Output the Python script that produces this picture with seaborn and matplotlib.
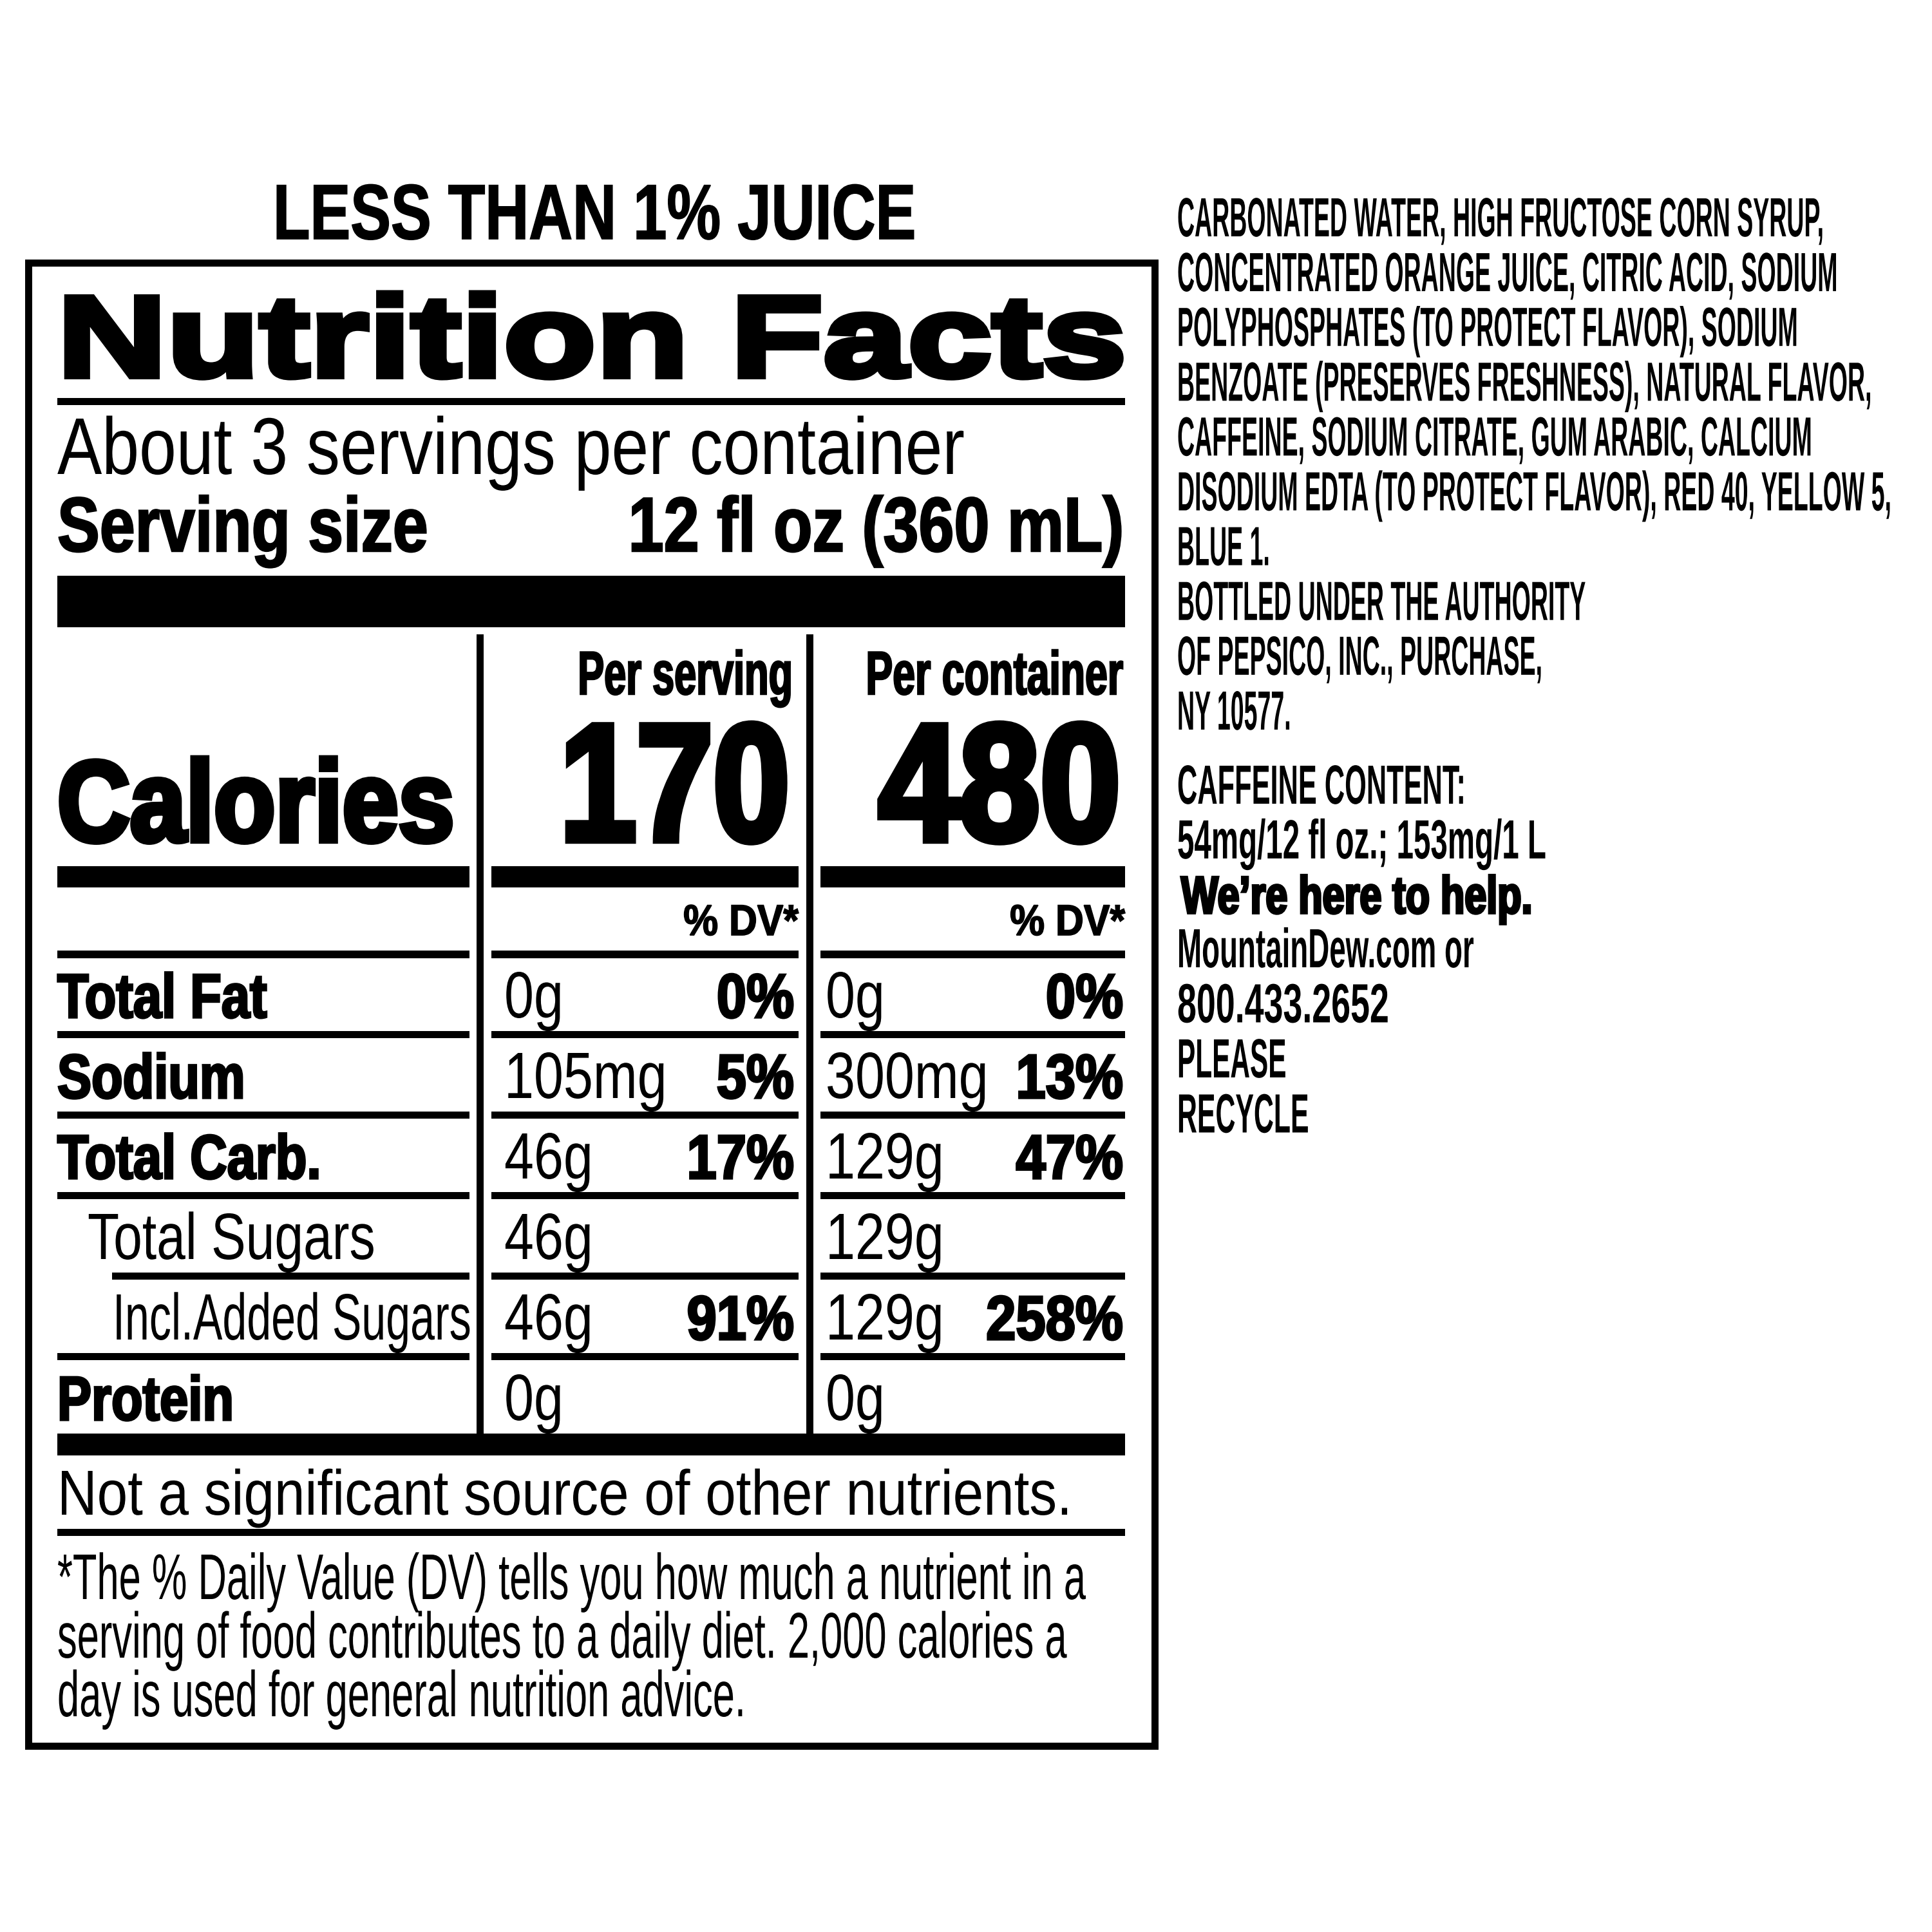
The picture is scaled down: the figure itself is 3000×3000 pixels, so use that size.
import matplotlib
matplotlib.use("Agg")
import matplotlib.pyplot as plt
import seaborn as sns
from matplotlib.patches import Rectangle
from matplotlib.patheffects import AbstractPathEffect
from matplotlib.transforms import Affine2D
from matplotlib.textpath import TextPath
from matplotlib.font_manager import FontProperties

# label content
juice_note = "LESS THAN 1% JUICE"
title = "Nutrition Facts"
servings_text = "About 3 servings per container"
serving_size_label = "Serving size"
serving_size_value = "12 fl oz (360 mL)"
column_heads = ["Per serving", "Per container"]
calories = [170, 480]
dv_head = "% DV*"

nutrients = ["Total Fat", "Sodium", "Total Carb.", "Total Sugars",
             "Incl.Added Sugars", "Protein"]
nutrient_level = [0, 0, 0, 1, 2, 0]
serving_amount = ["0g", "105mg", "46g", "46g", "46g", "0g"]
serving_dv = ["0%", "5%", "17%", "", "91%", ""]
container_amount = ["0g", "300mg", "129g", "129g", "129g", "0g"]
container_dv = ["0%", "13%", "47%", "", "258%", ""]

other_note = "Not a significant source of other nutrients."
footnote_lines = [
    "*The % Daily Value (DV) tells you how much a nutrient in a",
    "serving of food contributes to a daily diet. 2,000 calories a",
    "day is used for general nutrition advice.",
]

ingredient_lines = [
    "CARBONATED WATER, HIGH FRUCTOSE CORN SYRUP,",
    "CONCENTRATED ORANGE JUICE, CITRIC ACID, SODIUM",
    "POLYPHOSPHATES (TO PROTECT FLAVOR), SODIUM",
    "BENZOATE (PRESERVES FRESHNESS), NATURAL FLAVOR,",
    "CAFFEINE, SODIUM CITRATE, GUM ARABIC, CALCIUM",
    "DISODIUM EDTA (TO PROTECT FLAVOR), RED 40, YELLOW 5,",
    "BLUE 1.",
    "BOTTLED UNDER THE AUTHORITY",
    "OF PEPSICO, INC., PURCHASE,",
    "NY 10577.",
]
caffeine_lines = ["CAFFEINE CONTENT:", "54mg/12 fl oz.; 153mg/1 L"]
help_line = "We\u2019re here to help."
contact_lines = ["MountainDew.com or", "800.433.2652", "PLEASE", "RECYCLE"]


sns.set_theme(style="white")
plt.rcParams["font.family"] = ["Liberation Sans", "DejaVu Sans"]

DPI = 300
PX = DPI / 72.0
FAMILY = "Liberation Sans"


class Tall(AbstractPathEffect):
    """Stretch glyphs vertically about the baseline (gives condensed look), optional emboldening."""

    def __init__(self, sy, stroke=0.0):
        super().__init__()
        self.sy = sy
        self.stroke = stroke

    def draw_path(self, renderer, gc, tpath, affine, rgbFace=None):
        gc0 = renderer.new_gc()
        gc0.copy_properties(gc)
        if self.stroke:
            gc0.set_linewidth(self.stroke)
            gc0.set_foreground(rgbFace)
            gc0.set_joinstyle("miter")
        renderer.draw_path(gc0, tpath, Affine2D().scale(1, self.sy) + affine, rgbFace)
        gc0.restore()


def _ext(s, size, weight):
    fp = FontProperties(family=FAMILY, weight=weight)
    return TextPath((0, 0), s, size=size * PX, prop=fp).get_extents()


def fit(s, cap, width, weight="normal", stroke=0.0):
    """font size giving the wanted ink width, and the vertical factor for the cap height"""
    grow = stroke * PX
    size = 10 * (width - grow) / _ext(s, 10, weight).width
    sy = (cap - grow) / _ext("H", size, weight).height
    return size, sy, weight, stroke


def label(x, y, s, style, ha="left"):
    size, sy, weight, stroke = style
    ax.text(x, y, s, fontsize=size, fontweight=weight, family=FAMILY,
            ha=ha, va="baseline", color="black",
            path_effects=[Tall(sy, stroke)])


def rule(x0, x1, y0, y1):
    ax.add_patch(Rectangle((x0, y0), x1 - x0, y1 - y0, facecolor="black",
                           edgecolor="none", linewidth=0))


fig = plt.figure(figsize=(10, 10), dpi=DPI, facecolor="white")
ax = fig.add_axes([0, 0, 1, 1])
ax.set_xlim(0, 3000)
ax.set_ylim(3000, 0)
ax.axis("off")

L, R = 89, 1747
segs = [(89, 729), (763, 1240), (1274, 1747)]

# outer box
ax.add_patch(Rectangle((43.5, 407.5), 1749, 2303, fill=False,
                       edgecolor="black", linewidth=11 / PX))

label(424, 371, juice_note, fit(juice_note, 85, 990, "bold", 0.4))
label(L, 584, title, fit(title, 132, 1645, "bold", 2.4))
rule(L, R, 618, 629)
label(L, 736, servings_text, fit(servings_text, 86, 1407))
label(L, 856, serving_size_label, fit(serving_size_label, 85, 572, "bold", 0.6))
label(1745, 856, serving_size_value, fit(serving_size_value, 85, 761, "bold", 0.6), ha="right")
rule(L, R, 894, 974)

# column dividers
rule(740, 751, 985, 2226)
rule(1252, 1263, 985, 2226)

label(1231, 1078, column_heads[0], fit(column_heads[0], 68, 328, "bold", 0.6), ha="right")
label(1744, 1078, column_heads[1], fit(column_heads[1], 68, 397, "bold", 0.6), ha="right")
label(L, 1306, "Calories", fit("Calories", 131, 612, "bold", 2.0))
label(1226, 1305, str(calories[0]), fit(str(calories[0]), 189, 345, "bold", 2.5), ha="right")
label(1740, 1305, str(calories[1]), fit(str(calories[1]), 189, 374, "bold", 2.5), ha="right")
for a, b in segs:
    rule(a, b, 1345, 1378)
dv_style = fit(dv_head, 48, 179, "bold", 0.4)
label(1240, 1452, dv_head, dv_style, ha="right")
label(1747, 1452, dv_head, dv_style, ha="right")
for a, b in segs:
    rule(a, b, 1476, 1488)

# nutrient rows
bold_style = fit("Total Fat", 70, 327, "bold", 0.8)
amt_style = fit("105mg", 70, 241)
pct_style = fit("258%", 70, 211, "bold", 0.8)
sub_styles = {1: fit("Total Sugars", 70, 442), 2: fit("Incl.Added Sugars", 70, 548)}
indent = {0: L, 1: 136, 2: 175}
for i, name in enumerate(nutrients):
    y = 1580 + 125 * i
    lvl = nutrient_level[i]
    label(indent[lvl], y, name, bold_style if lvl == 0 else sub_styles[lvl])
    label(783, y, serving_amount[i], amt_style)
    label(1282, y, container_amount[i], amt_style)
    if serving_dv[i]:
        label(1233, y, serving_dv[i], pct_style, ha="right")
    if container_dv[i]:
        label(1744, y, container_dv[i], pct_style, ha="right")
    if i < len(nutrients) - 1:
        top = 1601 + 125 * i
        for k, (a, b) in enumerate(segs):
            start = 174 if (k == 0 and nutrient_level[i + 1] == 2) else a
            rule(start, b, top, top + 11)

rule(L, R, 2226, 2260)
label(L, 2352, other_note, fit(other_note, 68, 1561))
rule(L, R, 2374, 2385)
foot_style = fit(footnote_lines[0], 69, 1596)
for j, line in enumerate(footnote_lines):
    label(L, 2483 + 91 * j, line, foot_style)

# right column
rx = 1828
col_style = fit(ingredient_lines[0], 59, 1000, "bold")
for j, line in enumerate(ingredient_lines):
    label(rx, 367 + 85.1 * j, line, col_style)
label(rx, 1248, caffeine_lines[0], fit(caffeine_lines[0], 59, 442, "bold"))
label(rx, 1333, caffeine_lines[1], fit(caffeine_lines[1], 59, 570, "bold"))
label(1834, 1418, help_line, fit(help_line, 60, 545, "bold", 0.9))
contact_widths = [457, 325, 165, 200]
for j, line in enumerate(contact_lines):
    label(rx, 1502 + 85.5 * j, line, fit(line, 59, contact_widths[j], "bold"))

fig.savefig("out.png", dpi=DPI, facecolor="white")
